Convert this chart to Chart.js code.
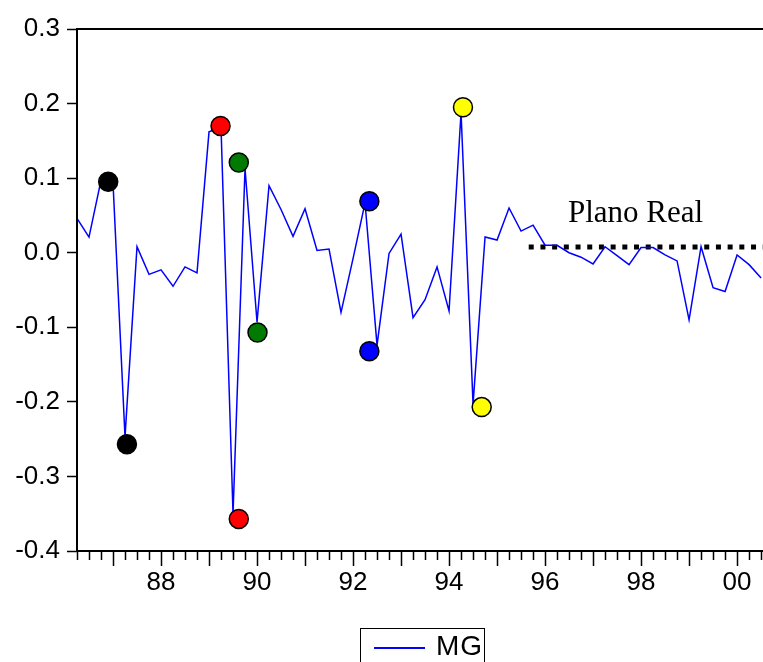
<!DOCTYPE html>
<html>
<head>
<meta charset="utf-8">
<script src="https://cdn.jsdelivr.net/npm/chart.js@4.4.0/dist/chart.umd.min.js"></script>
<style>
  body { margin: 0; background: #fff; overflow: hidden; }
  #wrap { position: relative; width: 763px; height: 662px; }
  #chart { position: absolute; left: 0; top: 0; }
  #note { position: absolute; left: 568px; top: 196px; font: 31px "Liberation Serif", serif; line-height: 31px; color: #000; white-space: nowrap; }
  #legend { position: absolute; left: 360px; top: 628px; width: 125px; height: 60px; border: 1.5px solid #000; box-sizing: border-box; }
  #legend .swatch { position: absolute; left: 13px; top: 18px; width: 51px; height: 1.5px; background: #0000ff; }
  #legend .label { position: absolute; left: 75px; top: 3px; font: 28px "Liberation Sans", Arial, sans-serif; line-height: 28px; letter-spacing: 1px; }
</style>
</head>
<body>
<div id="wrap">
  <canvas id="chart" width="763" height="662"></canvas>
  <div id="note">Plano Real</div>
  <div id="legend"><div class="swatch"></div><div class="label">MG</div></div>
</div>
<script>
/* ---------- DATA ---------- */
// quarterly series, first observation 1986Q2
const firstPeriod = 1986.25;
const mgValues = [
  0.046, 0.021, 0.097, 0.094, -0.247, 0.008, -0.029, -0.023, -0.045, -0.019,
  -0.027, 0.162, 0.168, -0.350, 0.113, -0.093, 0.090, 0.058, 0.022, 0.059,
  0.003, 0.005, -0.080, -0.008, 0.067, -0.124, -0.001, 0.025, -0.087, -0.063,
  -0.019, -0.078, 0.188, -0.203, 0.021, 0.017, 0.060, 0.029, 0.037, 0.010,
  0.010, 0.000, -0.006, -0.015, 0.008, -0.004, -0.016, 0.007, 0.007, -0.003,
  -0.011, -0.090, 0.008, -0.047, -0.052, -0.003, -0.016, -0.034
];

// highlighted points (pairs)
const dotX = [1986.90, 1987.29, 1989.24, 1989.62, 1989.62, 1990.01, 1992.34, 1992.34, 1994.29, 1994.68];
const dotY = [0.095, -0.257, 0.170, -0.357, 0.121, -0.107, 0.069, -0.132, 0.195, -0.207];
const dotColors = ["#000000", "#000000", "#ff0000", "#ff0000", "#007a00", "#007a00",
                   "#0000ff", "#0000ff", "#ffff00", "#ffff00"];

// Plano Real reference line
const realX = [1995.66, 2000.6];
const realY = [0.0075, 0.0075];

const xTickYears = [1988, 1990, 1992, 1994, 1996, 1998, 2000];
const xTickLabels = ["88", "90", "92", "94", "96", "98", "00"];
const yTicks = [-0.4, -0.3, -0.2, -0.1, 0.0, 0.1, 0.2, 0.3];

/* ---------- FRAME + QUARTER TICKS ---------- */
const frameTicks = {
  id: "frameTicks",
  afterDraw(chart) {
    const { ctx, chartArea: a } = chart;
    const x = chart.scales.x;
    ctx.save();
    ctx.strokeStyle = "#000";
    ctx.lineWidth = 2;
    ctx.beginPath();
    ctx.moveTo(a.right + 2, a.top);
    ctx.lineTo(a.left, a.top);
    ctx.lineTo(a.left, a.bottom);
    ctx.lineTo(a.right + 2, a.bottom);
    ctx.stroke();
    ctx.lineWidth = 1.5;
    ctx.beginPath();
    for (let k = 1; k <= 60; k++) {
      const v = 1986 + k * 0.25;
      if (v < x.min || v > x.max) continue;
      const px = Math.round(x.getPixelForValue(v)) + 0.5;
      const len = k % 4 === 0 ? 15 : 9;
      ctx.moveTo(px, a.bottom);
      ctx.lineTo(px, a.bottom + len);
    }
    ctx.stroke();
    ctx.restore();
  }
};

const font = { family: "'Liberation Sans', Arial, sans-serif", size: 26 };

new Chart(document.getElementById("chart"), {
  type: "line",
  data: {
    datasets: [
      {
        label: "dots",
        data: dotX.map((x, i) => ({ x, y: dotY[i] })),
        showLine: false,
        pointRadius: 9.5,
        pointBorderWidth: 1.5,
        pointBorderColor: "#000",
        pointBackgroundColor: dotColors,
        order: 0
      },
      {
        label: "MG",
        data: mgValues.map((y, i) => ({ x: firstPeriod + i * 0.25, y })),
        borderColor: "#0000ff",
        borderWidth: 1.5,
        pointRadius: 0,
        tension: 0,
        order: 1
      },
      {
        label: "Plano Real",
        data: realX.map((x, i) => ({ x, y: realY[i] })),
        borderColor: "#000",
        borderWidth: 5,
        borderDash: [5, 6.7],
        borderCapStyle: "butt",
        pointRadius: 0,
        order: 2
      }
    ]
  },
  options: {
    responsive: false,
    animation: false,
    devicePixelRatio: 1,
    layout: { autoPadding: false, padding: { top: 29, right: 0, left: 0, bottom: 0 } },
    plugins: { legend: { display: false }, tooltip: { enabled: false } },
    scales: {
      x: {
        type: "linear",
        min: firstPeriod,
        max: 2000.54,
        afterFit: s => { s.height = 111; s.paddingLeft = 0; s.paddingRight = 0; },
        afterBuildTicks: s => { s.ticks = xTickYears.map(v => ({ value: v })); },
        ticks: {
          color: "#000",
          font,
          padding: 1,
          maxRotation: 0,
          autoSkip: false,
          callback: v => xTickLabels[xTickYears.indexOf(v)]
        },
        grid: { drawOnChartArea: false, color: "transparent", tickLength: 15 },
        border: { display: false }
      },
      y: {
        min: -0.4,
        max: 0.3,
        afterFit: s => { s.width = 77; s.paddingTop = 0; s.paddingBottom = 0; },
        afterBuildTicks: s => { s.ticks = yTicks.map(v => ({ value: v })); },
        ticks: {
          color: "#000",
          font,
          padding: 7,
          callback: v => v.toFixed(1)
        },
        grid: { drawOnChartArea: false, tickLength: 10, tickColor: "#000", tickWidth: 1.5 },
        border: { display: false }
      }
    }
  },
  plugins: [frameTicks]
});
</script>
</body>
</html>
